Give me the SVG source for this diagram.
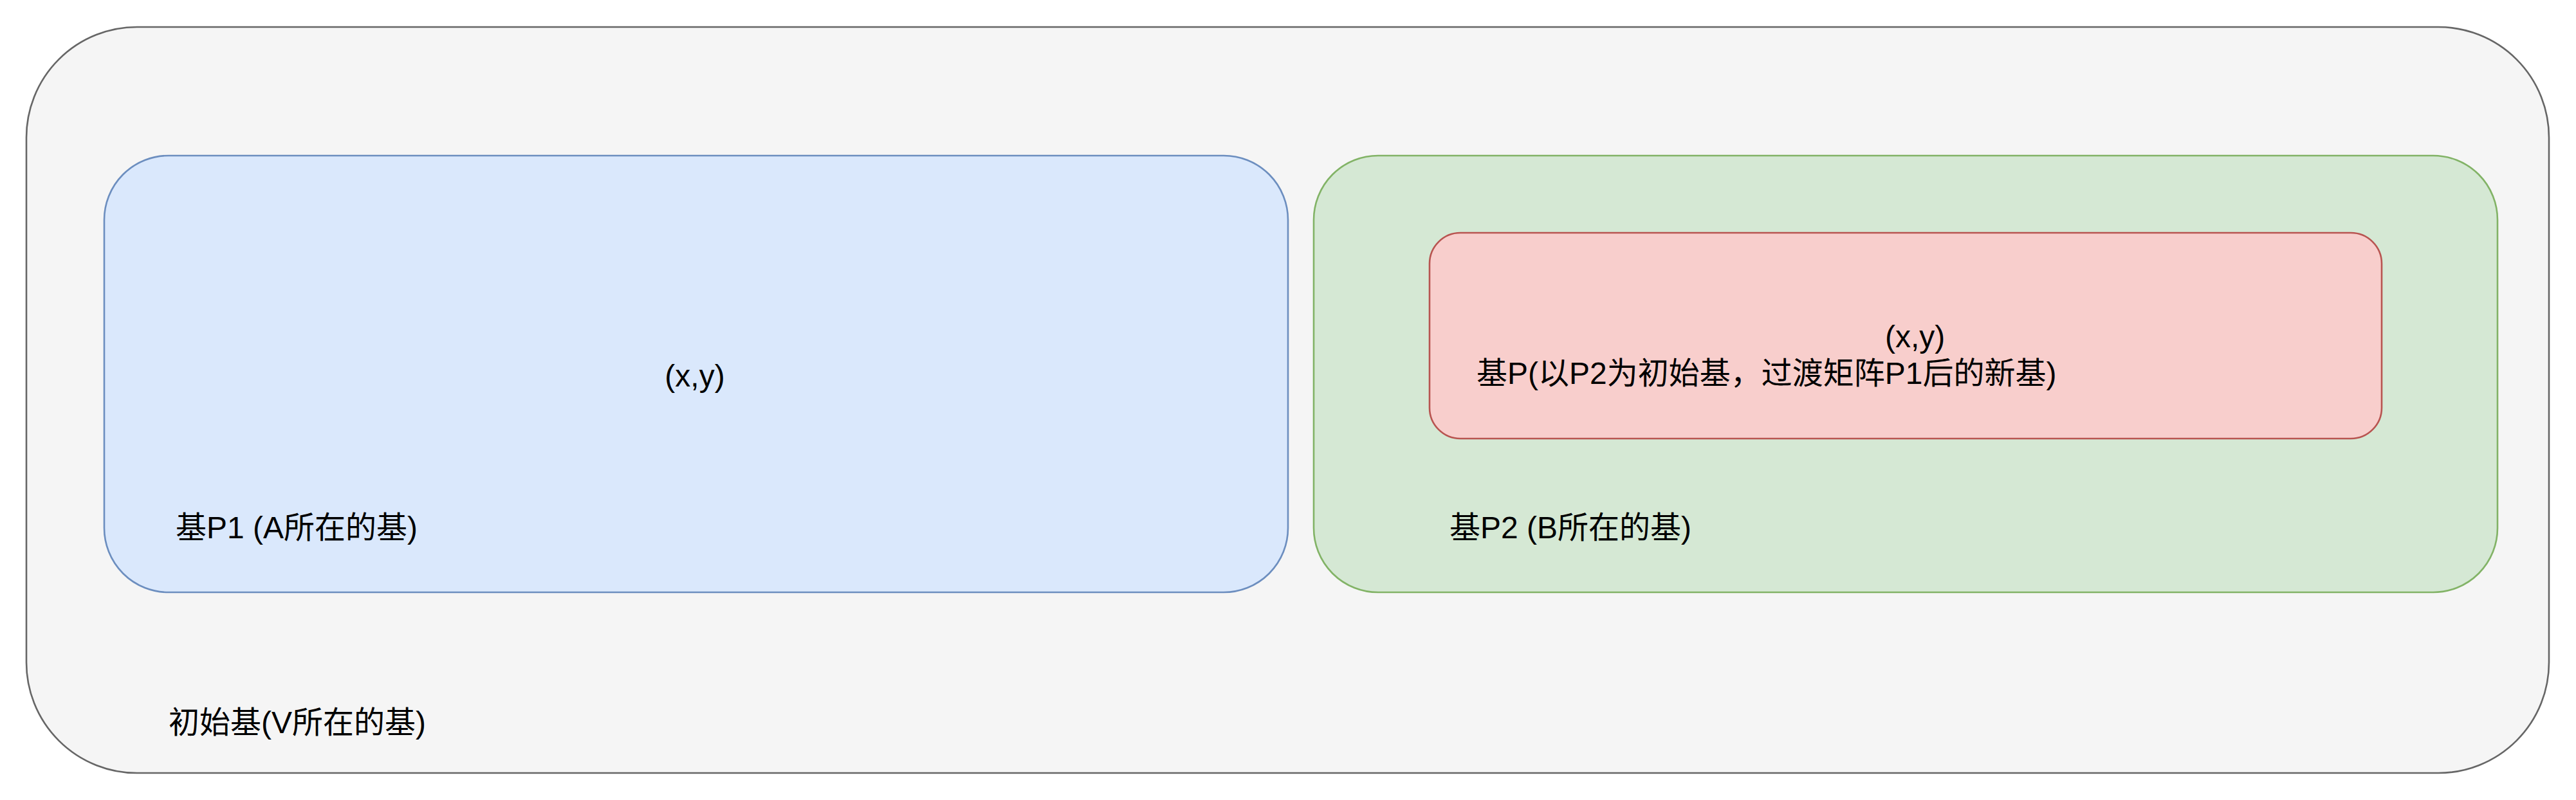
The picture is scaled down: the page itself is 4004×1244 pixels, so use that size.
<svg xmlns="http://www.w3.org/2000/svg" width="4004" height="1244" viewBox="0 0 4004 1244">
<style>
text { font-family: "Liberation Sans", "Noto Sans CJK SC", sans-serif; font-size: 48px; fill: #000000; }
.box { stroke-width: 2.6; }
</style>
<rect width="4004" height="1244" fill="#ffffff"/>
<g id="node-initial">
<rect class="box" x="41" y="42" width="3921" height="1160" rx="172" ry="172" fill="#f5f5f5" stroke="#666666"/>
<text x="262" y="1140">初始基(V所在的基)</text>
</g>
<g id="node-p1">
<rect class="box" x="162" y="242" width="1840" height="679" rx="100" ry="100" fill="#dae8fc" stroke="#6c8ebf"/>
<text x="1080" y="601" text-anchor="middle">(x,y)</text>
<text x="273" y="837">基P1 (A所在的基)</text>
</g>
<g id="node-p2">
<rect class="box" x="2042" y="242" width="1840" height="679" rx="100" ry="100" fill="#d5e8d4" stroke="#82b366"/>
<text x="2253" y="837">基P2 (B所在的基)</text>
</g>
<g id="node-p">
<rect class="box" x="2222" y="362" width="1480" height="320" rx="48" ry="48" fill="#f8cecc" stroke="#b85450"/>
<text x="2930" y="540">(x,y)</text>
<text x="2295" y="597">基P(以P2为初始基，过渡矩阵P1后的新基)</text>
</g>
<g id="connectors"></g>
</svg>
